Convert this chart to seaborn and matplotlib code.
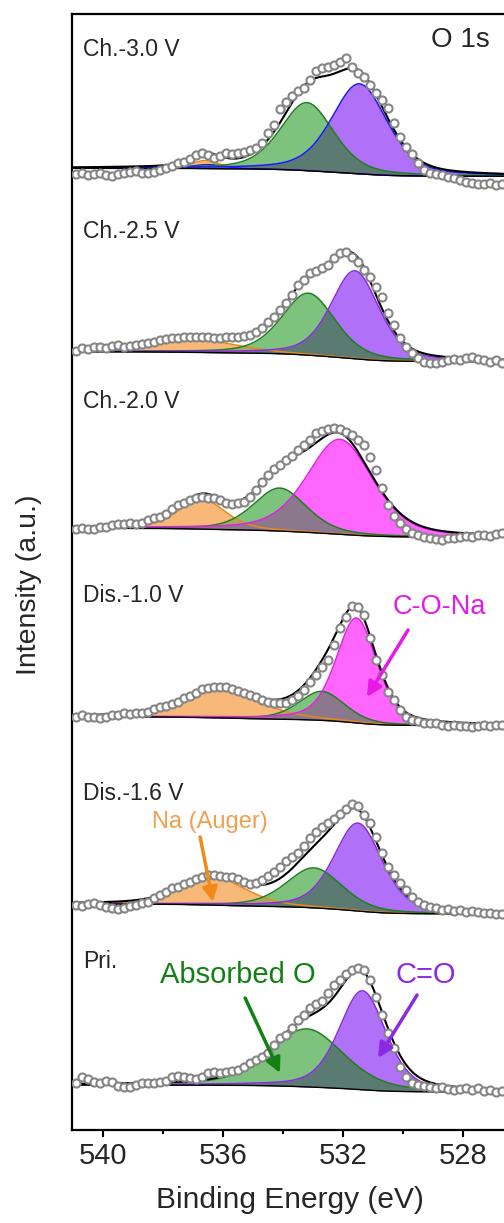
import numpy as np
import matplotlib
matplotlib.use("Agg")
import matplotlib.pyplot as plt
import seaborn as sns

# ---------------------------------------------------------------- data
# binding-energy grid of the measured points (eV), 0.2 eV step
energy = np.linspace(540.9, 526.7, 72)

panel_names = ["Ch.-3.0 V", "Ch.-2.5 V", "Ch.-2.0 V", "Dis.-1.0 V", "Dis.-1.6 V", "Pri."]

# measured O 1s intensities (a.u., relative to each spectrum's high-BE baseline)
counts_ch30 = [-5.7, -5, -6.7, -5.7, -5, -6.7, -7.7, -5.7, -4.3, -3.3,
               -2.3, -4.3, -5, -3.3, -1.7, 0, 2.3, 5, 6.7, 9,
               13.3, 15.7, 13.3, 10, 12.3, 15.7, 14.3, 15.7, 16.7, 18.3,
               20, 25, 35, 43.3, 59, 66.7, 72.3, 77.7, 80, 88.3,
               97.7, 100, 101.7, 103.3, 106.7, 110, 101.7, 95.7, 91, 83.3,
               75, 68.3, 60, 45, 31.7, 21.7, 14.3, 5, -1.7, -4.3,
               -5.7, -6.7, -8.3, -10, -11.7, -13.3, -15, -15.7, -15.7, -15,
               -16.7, -15.7]
counts_ch25 = [1, 3.3, 2.3, 5, 5, 3.3, 5.7, 6.7, 5, 5.7,
               6.7, 7.7, 8.3, 10, 11.7, 12.3, 13.3, 14, 14.3, 15,
               15, 14.3, 15, 14, 13.3, 14.3, 14.3, 15, 15.7, 16.7,
               20, 23.3, 30, 35, 41.7, 48.3, 56.7, 66.7, 71.7, 79,
               81, 83.3, 86.7, 93.3, 98.3, 100, 95, 90, 81.7, 75,
               65, 55, 38.3, 26.7, 13.3, 5, -1, -6.7, -10, -11.7,
               -11, -10, -8.3, -7.7, -8.3, -6.7, -5, -7.7, -8.3, -10,
               -8.3, -11]
counts_ch20 = [-1, 0, -1, -0.3, 1, 1.7, 3.3, 4.3, 4.3, 5,
               4.3, 5.7, 8.3, 10, 11.7, 14.3, 19, 23.3, 25.7, 28.3,
               30, 31, 30, 30, 28.3, 25.7, 24.3, 25, 26.7, 31.7,
               38.3, 46.7, 53.3, 59, 63.3, 68.3, 72.3, 78.3, 83.3, 88.3,
               95, 97.7, 99, 100, 99, 96.7, 93.3, 88.3, 83.3, 71.7,
               58.3, 40, 23.3, 12.3, 5, -1, -4.3, -6.7, -8.3, -10,
               -11, -11.7, -10, -10, -8.3, -7.7, -8.3, -6.7, -6.7, -7.7,
               -5.7, -5]
counts_dis10 = [0, 1.7, -0.7, 0, -1.7, 0, 1.7, 1.7, 3.3, 2.7,
                3.3, 4, 5, 7.3, 10, 10.7, 12.7, 15, 18.3, 20.7,
                23.3, 27.3, 28.3, 29.3, 30, 29.3, 27.3, 26, 23.3, 21.7,
                19.3, 16.7, 15, 14, 13.3, 14, 16.7, 20.7, 26.7, 35,
                41.7, 49.3, 56.7, 71.7, 88.3, 100, 110.7, 110, 101.7, 78.3,
                56.7, 41.7, 25, 16.7, 6.7, -0.7, -3.3, -4, -6.7, -6,
                -6.7, -8.3, -9.3, -8.3, -9.3, -9.3, -10, -9.3, -8.3, -9.3,
                -8.3, -8.3]
counts_dis16 = [-1, -2, 0, 0.7, -1, -2.7, -4.3, -5.3, -4.3, -2,
                -1, 0.7, 2.3, 5.7, 9, 12.3, 15.7, 17.3, 20, 22.3,
                24.7, 27.3, 29, 29, 28, 27.3, 26.7, 24.7, 22.3, 20,
                20.7, 24, 28, 32.3, 37.3, 43.3, 46.7, 51.3, 58, 65.7,
                72.3, 76.7, 80.7, 84.7, 90, 94.7, 100, 98, 89, 80.7,
                67.3, 50.7, 37.3, 29, 20.7, 14, 7.3, 2.3, -1, -2.7,
                -4.3, -6, -5.3, -6.7, -6, -7.7, -6.7, -7.7, -8.7, -9.3,
                -10, -10]
counts_pri = [1.7, 8.3, 5.7, 3.3, 2.3, 4.3, 3.3, -1, -1.7, -1.7,
              0, 1.7, 1.7, 2.3, 3.3, 4.3, 8.3, 9, 7.7, 6.7,
              5.7, 8.3, 11.7, 13.3, 12.3, 13.3, 14.3, 15, 17.7, 22.3,
              25, 28.3, 32.3, 40, 46.7, 50, 56.7, 65, 70, 76.7,
              81, 84.3, 92.3, 100, 105, 111, 115, 116.7, 115, 105,
              88.3, 70, 51.7, 36.7, 18.3, 8.3, 2.3, 0, -1, -1.7,
              -3.3, -1.7, -4.3, -5, -4.3, -3.3, -5, -3.3, -5.7, -5,
              -6.7, -5.7]
panel_counts = [counts_ch30, counts_ch25, counts_ch20, counts_dis10, counts_dis16, counts_pri]

# fitted components: (species, centre eV, height a.u., FWHM eV)
peaks_ch30 = [("Na KLL", 536.6, 8, 1.1), ("minor", 536.5, 4, 1.3),
              ("Absorbed O", 533.2, 68, 2.1), ("C=O", 531.45, 90, 2.2)]
peaks_ch25 = [("Na KLL", 536.9, 13, 3.2), ("Absorbed O", 533.15, 62, 2.1),
              ("C=O", 531.6, 88, 1.9)]
peaks_ch20 = [("Na KLL", 536.7, 30, 1.85), ("Absorbed O", 534.1, 43, 2.1),
              ("C-O-Na", 532.1, 95, 2.6)]
peaks_dis10 = [("Na KLL", 536.1, 28, 3.1), ("Absorbed O", 532.7, 29, 1.8),
               ("C-O-Na", 531.55, 105, 1.6)]
peaks_dis16 = [("Na KLL", 536.3, 28, 2.5), ("Absorbed O", 532.96, 40, 2.2),
               ("C=O", 531.5, 88, 1.9)]
peaks_pri = [("Absorbed O", 533.2, 58, 2.9), ("C=O", 531.35, 99, 1.85)]
panel_peaks = [peaks_ch30, peaks_ch25, peaks_ch20, peaks_dis10, peaks_dis16, peaks_pri]

# Shirley background level on the low-BE side (a.u.)
background_low = [-8, -10, -9, -9, -10, -7]

# vertical stacking offsets of the spectra
panel_offsets = [961.7, 778.3, 601.7, 413.3, 226.0, 45.0]

# ---------------------------------------------------------------- styles
fill_colors = {"Na KLL": "#f8b978", "Absorbed O": "#7dc37d",
               "C=O": "#b070f8", "C-O-Na": "#ff66ff"}
edge_colors = {"Na KLL": "#e8891c", "Absorbed O": "#1f7f1f",
               "C=O": "#8a2be2", "C-O-Na": "#e020e0", "minor": "#1a1aff"}
overlap_colors = {("Na KLL", "Absorbed O"): "#a8a866",
                  ("Absorbed O", "C=O"): "#5b7b72",
                  ("Absorbed O", "C-O-Na"): "#8c788c"}


def pseudo_voigt(x, centre, height, fwhm, eta=0.4):
    d = (x - centre) / fwhm
    gauss = np.exp(-4 * np.log(2) * d ** 2)
    lorentz = 1.0 / (1.0 + 4 * d ** 2)
    return height * (eta * lorentz + (1 - eta) * gauss)


sns.set_theme(style="ticks")
plt.rcParams["font.family"] = ["Liberation Sans", "DejaVu Sans"]

fig = plt.figure(figsize=(5.04, 12.23), dpi=100)
ax = fig.add_axes([72 / 504, 93 / 1223, 451 / 504, 1116 / 1223])

grid = np.linspace(541.3, 525.8, 1200)

for name, counts, peaks, bg_low, off in zip(panel_names, panel_counts, panel_peaks,
                                            background_low, panel_offsets):
    comps = {sp: pseudo_voigt(grid, c, h, w) for sp, c, h, w in peaks}
    total = sum(comps.values())
    # Shirley-type step background, 0 on the high-BE side, bg_low on the low-BE side
    cum = np.cumsum(total[::-1])[::-1]
    frac = cum / cum[0]
    bg = off + bg_low * (1 - frac)

    for sp, comp in comps.items():
        if sp in fill_colors:
            ax.fill_between(grid, bg, bg + comp, color=fill_colors[sp], lw=0, zorder=2)
    for (a, b), col in overlap_colors.items():
        if a in comps and b in comps:
            ax.fill_between(grid, bg, bg + np.minimum(comps[a], comps[b]),
                            color=col, lw=0, zorder=3)
    for sp, comp in comps.items():
        edge = edge_colors[sp]
        if name == "Ch.-3.0 V" and sp == "C=O":
            edge = "#1a1aff"
        ax.plot(grid, bg + comp, color=edge, lw=1.1, zorder=4)
    ax.plot(grid, bg, color="black", lw=1.0, zorder=4)

    sns.lineplot(x=grid, y=bg + total, color="black", lw=1.5, estimator=None,
                 ax=ax, zorder=5)
    sns.scatterplot(x=energy, y=off + np.asarray(counts), marker="o", s=34,
                    facecolor="white", edgecolor="#858585", linewidth=1.5,
                    ax=ax, zorder=6)

# panel labels
label_y = [1080, 898, 728, 535, 337, 168]
for name, y in zip(panel_names, label_y):
    ax.text(540.66, y, name, fontsize=16.5, ha="left", va="center", zorder=7)
ax.text(529.05, 1090, "O 1s", fontsize=20, ha="left", va="center", zorder=7)

# species annotations
notes = [("C-O-Na", "#e619e6", "#e619e6", 19.5, (530.36, 523), (529.83, 500), (531.2, 433)),
         ("Na (Auger)", "#f0a050", "#f08a1a", 17, (538.36, 308), (536.76, 293), (536.33, 228)),
         ("Absorbed O", "#138013", "#138013", 21, (538.1, 155), (535.26, 132), (534.1, 57)),
         ("C=O", "#8a2be2", "#8a2be2", 21, (530.26, 155), (529.53, 135), (530.83, 72))]
for text, tcol, acol, fs, txy, tail, tip in notes:
    ax.text(*txy, text, color=tcol, fontsize=fs, ha="left", va="center", zorder=7)
    ax.annotate("", xy=tip, xytext=tail,
                arrowprops=dict(arrowstyle="-|>", color=acol, lw=2.5,
                                mutation_scale=22, shrinkA=0, shrinkB=0),
                zorder=7)

ax.set_xlim(541.03, 526.0)
ax.set_ylim(0, 1116)
ax.set_xticks([540, 536, 532, 528])
ax.set_xticks([538, 534, 530, 526], minor=True)
ax.set_yticks([])
ax.tick_params(axis="x", which="major", direction="out", length=5, width=1.5,
               labelsize=21, pad=4, color="black")
ax.tick_params(axis="x", which="minor", direction="out", length=3, width=1.5,
               color="black")
for sp in ax.spines.values():
    sp.set_visible(True)
    sp.set_linewidth(1.6)
    sp.set_color("black")
ax.set_xlabel("")
ax.set_ylabel("")

fig.text(290 / 504, 1 - 1200 / 1223, "Binding Energy (eV)", fontsize=21.5,
         ha="center", va="center")
fig.text(29 / 504, 1 - 585 / 1223, "Intensity (a.u.)", fontsize=20.5,
         rotation=90, ha="center", va="center")

fig.savefig("out.png", dpi=100, facecolor="white")
